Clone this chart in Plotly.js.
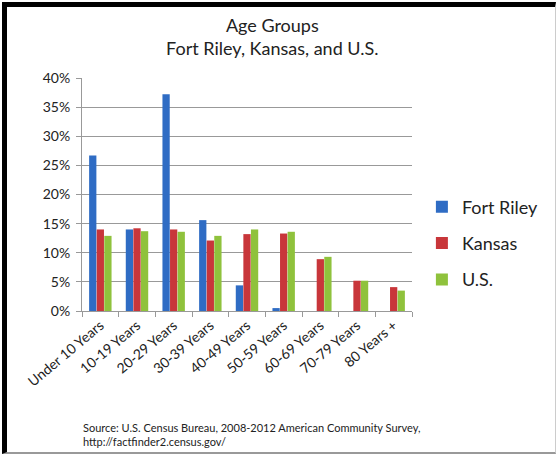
<!DOCTYPE html>
<html>
<head>
<meta charset="utf-8">
<script src="https://cdn.plot.ly/plotly-3.0.1.min.js"></script>
<style>
html,body{margin:0;padding:0;background:#fff;}
#wrap{position:relative;width:558px;height:455px;overflow:hidden;}
#chart{position:absolute;left:0;top:0;width:558px;height:455px;}
#frame{position:absolute;left:2px;top:2px;width:554px;height:452px;border-left:5px solid #000;border-top:5px solid #000;border-right:1px solid #ccc;border-bottom:2px solid #999;box-sizing:border-box;pointer-events:none;}
</style>
</head>
<body>
<div id="wrap"><div id="chart"></div><div id="frame"></div></div>
<script>
const categories = ["Under 10 Years","10-19 Years","20-29 Years","30-39 Years","40-49 Years","50-59 Years","60-69 Years","70-79 Years","80 Years +"];
const fortRiley = [26.7, 14.0, 37.2, 15.6, 4.4, 0.5, 0, 0, 0];
const kansas = [14.0, 14.2, 14.0, 12.1, 13.2, 13.3, 8.9, 5.2, 4.1];
const us = [12.9, 13.7, 13.6, 12.9, 14.0, 13.6, 9.3, 5.2, 3.5];
const yTicks = [0,5,10,15,20,25,30,35,40];
const yTickText = ["0%","5%","10%","15%","20%","25%","30%","35%","40%"];

const font = "Lato, 'Open Sans', sans-serif";
function tr(name, vals, color, grp){
  return {type:"bar", name:name, x:categories, y:vals, legendgroup:grp,
    marker:{color:color, line:{width:0}}, hoverinfo:"skip"};
}
const data = [
  tr("Fort Riley", fortRiley, "#2f6cc4", "a"),
  tr("Kansas", kansas, "#c8363a", "b"),
  tr("U.S.", us, "#8fc23c", "c")
];
const layout = {
  width:558, height:455,
  margin:{l:82, r:146, t:78, b:144},
  paper_bgcolor:"#fff", plot_bgcolor:"#fff",
  font:{family:font, color:"#222"},
  title:{text:"Age Groups<br>Fort Riley, Kansas, and U.S.", font:{size:18, family:font, color:"#222"},
    x:0.488, xref:"container", xanchor:"center", y:0.93, yref:"container", yanchor:"top"},
  barmode:"group", bargap:0.38, bargroupgap:0.04,
  showlegend:true,
  legend:{x:1.03, y:0.29, xanchor:"left", yanchor:"middle", font:{size:18, family:font, color:"#222"},
    tracegroupgap:10, itemwidth:30, bgcolor:"rgba(0,0,0,0)"},
  xaxis:{type:"category", tickangle:-40, tickfont:{size:14, family:font, color:"#222"},
    showline:true, linecolor:"#999", linewidth:1, ticks:"outside", ticklen:5, tickcolor:"#999",
    tickson:"boundaries", showgrid:false, zeroline:false},
  yaxis:{range:[0,40], tickvals:yTicks, ticktext:yTickText, tickfont:{size:14, family:font, color:"#222"},
    showgrid:true, gridcolor:"#999", gridwidth:1, showline:true, linecolor:"#999", linewidth:1,
    ticks:"outside", ticklen:5, tickcolor:"#999", zeroline:false, fixedrange:true, ticklabelstandoff:3},
  annotations:[{xref:"paper", yref:"paper", x:-0.003, y:-0.53, xanchor:"left", yanchor:"middle",
    align:"left", showarrow:false,
    text:"Source: U.S. Census Bureau, 2008-2012 American Community Survey,<br>http://factfinder2.census.gov/",
    font:{size:11, family:font, color:"#222"}}]
};
Plotly.newPlot("chart", data, layout, {displayModeBar:false, staticPlot:true});
</script>
</body>
</html>
